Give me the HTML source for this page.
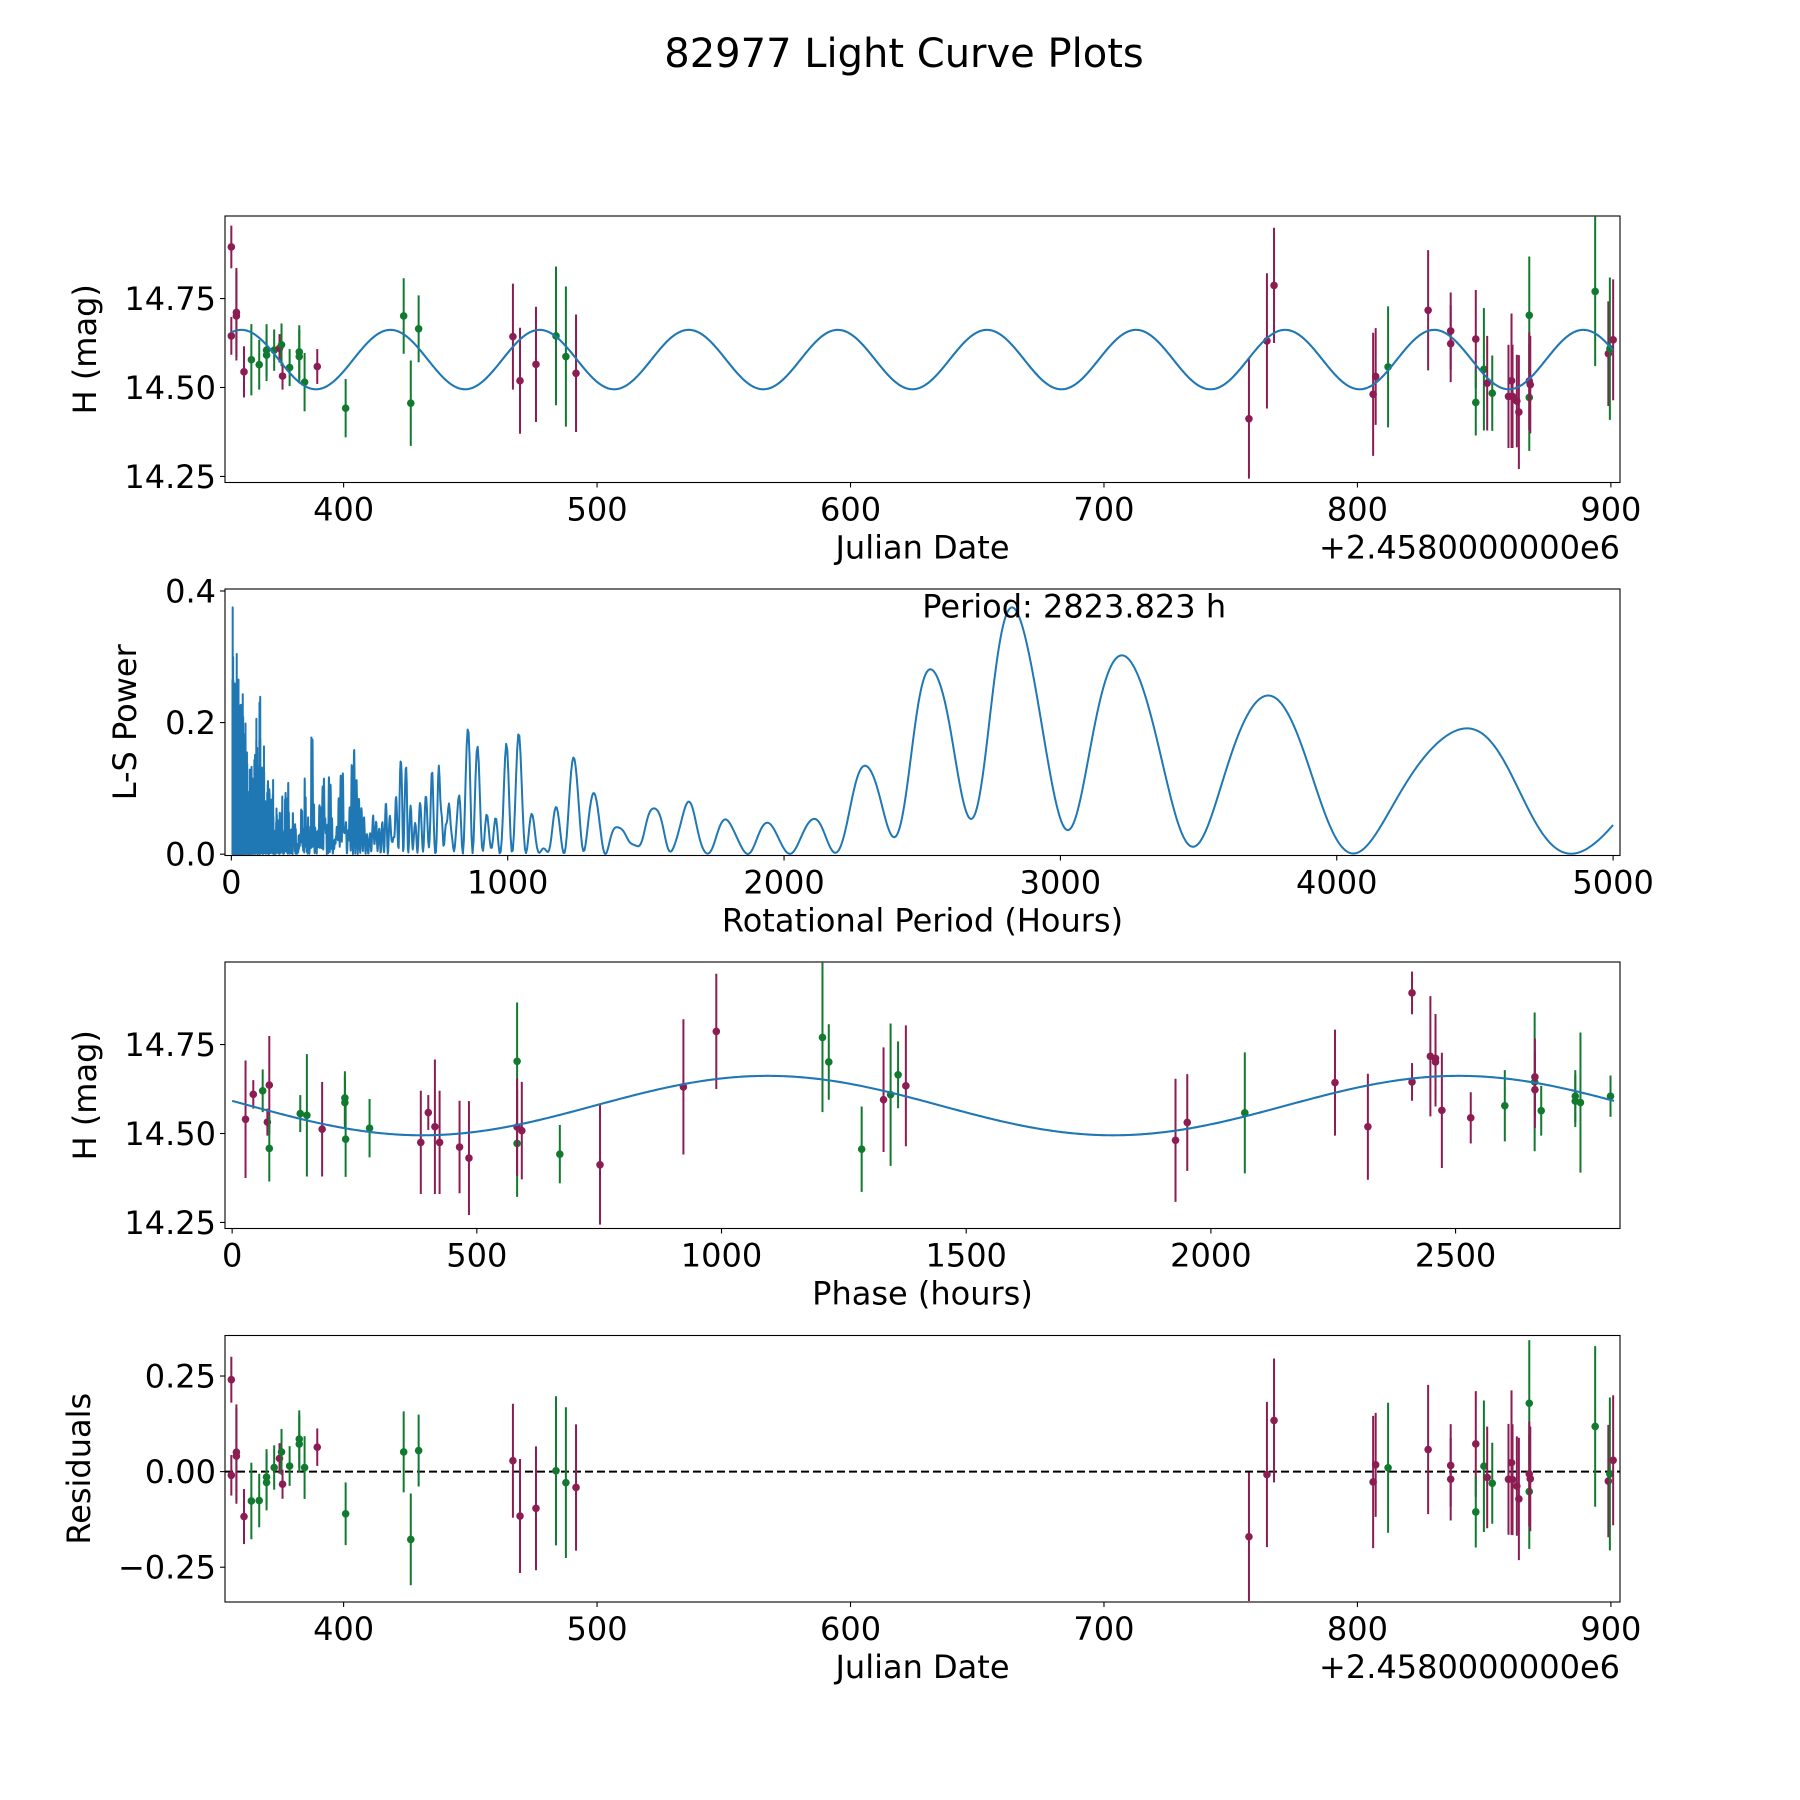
<!DOCTYPE html>
<html><head><meta charset="utf-8">
<style>
html,body{margin:0;padding:0;background:#fff;}
svg{display:block;font-family:"DejaVu Sans","Liberation Sans",sans-serif;}
</style></head>
<body>
<svg id="fig" width="1800" height="1800" viewBox="0 0 1800 1800" xmlns="http://www.w3.org/2000/svg">
<rect width="1800" height="1800" fill="#fff"/>
<text x="904" y="67" font-size="40" text-anchor="middle">82977 Light Curve Plots</text>
</svg>
<script>
// ---- data ----
const jd = [355.7,355.7,357.7,357.7,360.7,363.6,366.7,369.6,369.6,372.6,374.7,375.5,375.9,378.7,382.5,382.5,384.6,389.6,400.8,423.7,426.5,429.6,466.8,469.6,475.9,483.8,487.7,491.7,757.2,764.3,767.1,806.2,807.2,812.1,827.9,836.8,836.8,846.7,846.7,849.9,851.2,853.2,859.6,860.8,861.2,862.9,863.7,867.8,867.8,867.8,868.2,893.8,899.0,899.6,900.9];
const mag = [14.895,14.645,14.711,14.701,14.544,14.578,14.564,14.591,14.605,14.605,14.61,14.62,14.532,14.556,14.6,14.587,14.515,14.559,14.442,14.701,14.456,14.665,14.643,14.519,14.565,14.645,14.587,14.54,14.412,14.631,14.787,14.481,14.531,14.558,14.717,14.659,14.623,14.636,14.458,14.551,14.512,14.484,14.475,14.519,14.475,14.462,14.431,14.703,14.472,14.518,14.508,14.77,14.595,14.609,14.634];
const magErr = [0.06,0.053,0.125,0.125,0.072,0.1,0.07,0.073,0.073,0.058,0.04,0.06,0.038,0.052,0.075,0.075,0.082,0.049,0.082,0.106,0.12,0.094,0.149,0.149,0.162,0.195,0.197,0.165,0.168,0.19,0.162,0.173,0.136,0.17,0.169,0.108,0.108,0.138,0.093,0.172,0.133,0.106,0.145,0.189,0.145,0.13,0.16,0.165,0.15,0.137,0.137,0.21,0.147,0.2,0.17];
const band = [0,0,0,0,0,1,1,1,1,1,0,1,0,1,1,1,1,0,1,1,1,1,0,0,0,1,1,0,0,0,0,0,0,1,0,0,0,0,1,1,0,1,0,0,0,0,0,1,1,0,0,1,0,1,0];
const bandColors = ["#8c1c52","#117a2f"];
const periodHours = 2823.823;
const fitMean = 14.5785;
const fitAmp = 0.0835;
const fitPeakJD = 418.5;
const phaseZeroJD = 372.9;
const jdTicks = [400,500,600,700,800,900];
const magTicks = [14.25,14.50,14.75];
const magTickLabels = ["14.25","14.50","14.75"];
const powTicks = [0,0.2,0.4];
const powTickLabels = ["0.0","0.2","0.4"];
const perTicks = [0,1000,2000,3000,4000,5000];
const phaseTicks = [0,500,1000,1500,2000,2500];
const resTicks = [-0.25,0,0.25];
const resTickLabels = ["\u22120.25","0.00","0.25"];

const NS="http://www.w3.org/2000/svg";
const svg=document.getElementById('fig');
function mk(tag,attrs,parent){const e=document.createElementNS(NS,tag);for(const k in attrs)e.setAttribute(k,attrs[k]);(parent||svg).appendChild(e);return e;}
const L=225,R=1620,H=266.5,FS=32;
const tops=[216,589,962,1335.5];
function model(t){return fitMean+fitAmp*Math.cos(2*Math.PI*(t-fitPeakJD)/(periodHours/48));}
function lin(d0,d1,r0,r1){return v=>r0+(v-d0)*(r1-r0)/(d1-d0);}

function axes(i,name,xd,yd,xticks,xlabels,yticks,ylabels,xlabel,ylabel,ylabX){
  const top=tops[i],bot=top+H;
  const g=mk('g',{});
  
  
  const sx=lin(xd[0],xd[1],L,R), sy=lin(yd[0],yd[1],bot,top);
  const cid='clip'+i;
  const cp=mk('clipPath',{id:cid},g);mk('rect',{x:L,y:top,width:R-L,height:H},cp);
  const plot=mk('g',{'clip-path':'url(#'+cid+')'},g);
  xticks.forEach((v,k)=>{const x=sx(v);
    const tk=mk('line',{x1:x,x2:x,y1:bot,y2:bot+5,stroke:'#000','stroke-width':1.1},g);
    
    
    const t=mk('text',{x:x,y:bot+38,'font-size':FS,'text-anchor':'middle'},g);t.textContent=xlabels[k];
    
    });
  yticks.forEach((v,k)=>{const y=sy(v);
    const tk=mk('line',{x1:L-5,x2:L,y1:y,y2:y,stroke:'#000','stroke-width':1.1},g);
    
    
    const t=mk('text',{x:L-9,y:y+11.5,'font-size':FS,'text-anchor':'end'},g);t.textContent=ylabels[k];
    
    });
  const xl=mk('text',{x:(L+R)/2,y:bot+76,'font-size':FS,'text-anchor':'middle'},g);xl.textContent=xlabel;
  
  
  const yl=mk('text',{x:ylabX,y:top+H/2,'font-size':FS,'text-anchor':'middle',transform:'rotate(-90 '+ylabX+' '+(top+H/2)+')'},g);yl.textContent=ylabel;
  
  
  return {g,plot,sx,sy,top,bot};
}
function frame(a){const r=mk('rect',{x:L,y:a.top,width:R-L,height:H,fill:'none',stroke:'#000','stroke-width':1.1},a.g);
  
  }
function points(a,xs,ys,es){
  for(let i=0;i<xs.length;i++){
    const c=bandColors[band[i]],x=a.sx(xs[i]);
    const b=mk('line',{x1:x,x2:x,y1:a.sy(ys[i]-es[i]),y2:a.sy(ys[i]+es[i]),stroke:c,'stroke-width':2},a.plot);
    
    
    const d=mk('circle',{cx:x,cy:a.sy(ys[i]),r:3.8,fill:c},a.plot);
    
    
  }
}
function curve(a,f,x0,x1,n,name){
  let d='';for(let k=0;k<=n;k++){const x=x0+(x1-x0)*k/n;d+=(k?'L':'M')+a.sx(x).toFixed(2)+' '+a.sy(f(x)).toFixed(2);}
  const p=mk('path',{d:d,fill:'none',stroke:'#1f77b4','stroke-width':2.1},a.plot);
  
  
}
const tmin=Math.min(...jd),tmax=Math.max(...jd);
const jdLabels=jdTicks.map(String);
const MAGLIM=[14.233,14.982];

// Panel 1: light curve
const a1=axes(0,'light-curve-panel',[353.2,903.6],MAGLIM,jdTicks,jdLabels,magTicks,magTickLabels,'Julian Date','H (mag)',96);
points(a1,jd,mag,magErr);
curve(a1,model,tmin,tmax,1500,'fit-curve');
frame(a1);
let off=mk('text',{x:R,y:a1.bot+76,'font-size':FS,'text-anchor':'end'},a1.g);off.textContent='+2.4580000000e6';



// Panel 2: periodogram (computed from data, unweighted; rotational period = 2 / frequency)
const a2=axes(1,'periodogram-panel',[-23,5025],[-0.002,0.403],perTicks,perTicks.map(String),powTicks,powTickLabels,'Rotational Period (Hours)','L-S Power',136);
(function(){
  const n=jd.length,th=jd.map(t=>t*24);
  const wn=jd.map(()=>1/n);
  let Y=0;for(let i=0;i<n;i++)Y+=wn[i]*mag[i];
  let YY=0;const yc=mag.map(v=>v-Y);for(let i=0;i<n;i++)YY+=wn[i]*yc[i]*yc[i];
  const base=(Math.max(...th)-Math.min(...th));
  const dfMax=1/(8*base),f0=2/5000,f1=1/2;
  const parts=[];
  let f=f0;
  while(f<=f1){
    let C=0,S=0,YC=0,YS=0,CC=0,SS=0,CS=0;
    const om=2*Math.PI*f;
    for(let i=0;i<n;i++){const ph=om*th[i],c=Math.cos(ph),s=Math.sin(ph),ww=wn[i];
      C+=ww*c;S+=ww*s;YC+=ww*yc[i]*c;YS+=ww*yc[i]*s;CC+=ww*c*c;SS+=ww*s*s;CS+=ww*c*s;}
    CC-=C*C;SS-=S*S;CS-=C*S;
    const D=CC*SS-CS*CS;
    const p=(SS*YC*YC+CC*YS*YS-2*CS*YC*YS)/(YY*D);
    parts.push((parts.length?'L':'M')+a2.sx(2/f).toFixed(2)+' '+a2.sy(p).toFixed(2));
    f+=Math.min(dfMax,f*f*4/2);
  }
  const pth=mk('path',{d:parts.join(''),fill:'none',stroke:'#1f77b4','stroke-width':2,'stroke-linejoin':'round'},a2.plot);
  
  
})();
frame(a2);
let pt=mk('text',{x:a2.sx(2500),y:a2.sy(0.36),'font-size':FS},a2.g);pt.textContent='Period: '+periodHours.toFixed(3)+' h';



// Panel 3: phased light curve
const phase=jd.map(t=>{let p=((t-phaseZeroJD)*24)%periodHours;if(p<0)p+=periodHours;return p;});
const a3=axes(2,'phase-panel',[-14.6,2836],MAGLIM,phaseTicks,phaseTicks.map(String),magTicks,magTickLabels,'Phase (hours)','H (mag)',96);
points(a3,phase,mag,magErr);
curve(a3,p=>model(phaseZeroJD+p/24),0,periodHours,600,'phase-fit-curve');
frame(a3);

// Panel 4: residuals
const resid=jd.map((t,i)=>mag[i]-model(t));
const a4=axes(3,'residuals-panel',[353.2,903.6],[-0.341,0.356],jdTicks,jdLabels,resTicks,resTickLabels,'Julian Date','Residuals',90);
let zl=mk('line',{x1:L,x2:R,y1:a4.sy(0),y2:a4.sy(0),stroke:'#000','stroke-width':2,'stroke-dasharray':'8,4'},a4.plot);


points(a4,jd,resid,magErr);
frame(a4);
off=mk('text',{x:R,y:a4.bot+76,'font-size':FS,'text-anchor':'end'},a4.g);off.textContent='+2.4580000000e6';


</script>
</body></html>
